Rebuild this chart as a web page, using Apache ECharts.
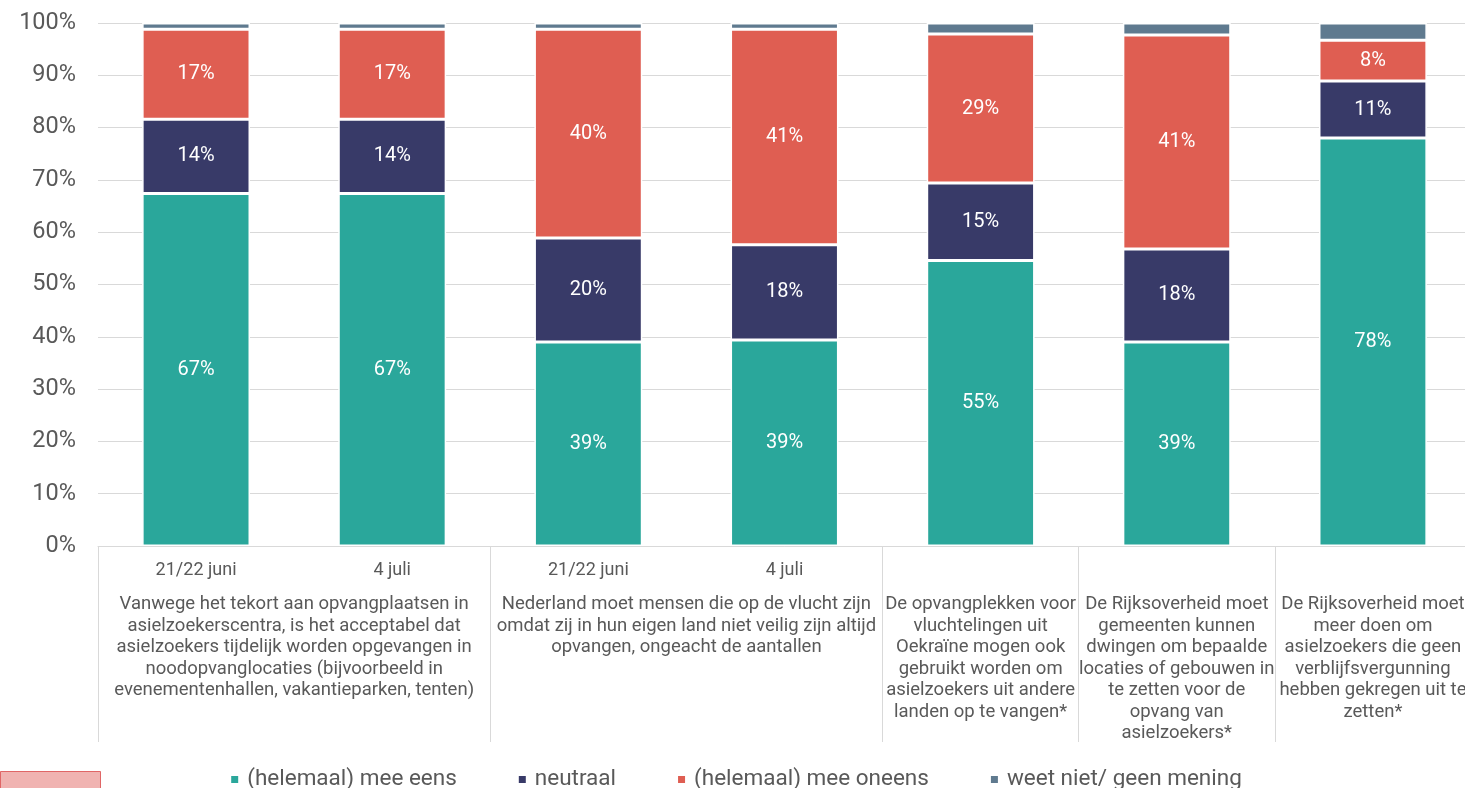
<!DOCTYPE html>
<html>
<head>
<meta charset="utf-8">
<script src="https://cdn.jsdelivr.net/npm/echarts@6/dist/echarts.min.js"></script>
<style>
html,body{margin:0;padding:0;background:#fff;overflow:hidden;width:1465px;height:788px}
#chart{width:1471px;height:788px}
</style>
</head>
<body>
<div id="chart"></div>
<script>
const dateLabels = ['21/22 juni', '4 juli', '21/22 juni', '4 juli', '', '', ''];
const groupLabels = [
  'Vanwege het tekort aan opvangplaatsen in\nasielzoekerscentra, is het acceptabel dat\nasielzoekers tijdelijk worden opgevangen in\nnoodopvanglocaties (bijvoorbeeld in\nevenementenhallen, vakantieparken, tenten)',
  'Nederland moet mensen die op de vlucht zijn\nomdat zij in hun eigen land niet veilig zijn altijd\nopvangen, ongeacht de aantallen',
  'De opvangplekken voor\nvluchtelingen uit\nOekraïne mogen ook\ngebruikt worden om\nasielzoekers uit andere\nlanden op te vangen*',
  'De Rijksoverheid moet\ngemeenten kunnen\ndwingen om bepaalde\nlocaties of gebouwen in\nte zetten voor de\nopvang van\nasielzoekers*',
  'De Rijksoverheid moet\nmeer doen om\nasielzoekers die geen\nverblijfsvergunning\nhebben gekregen uit te\nzetten*'
];
const groupCenters = [1, 3, 4.5, 5.5, 6.5];
const groupBounds = [0, 2, 4, 5, 6, 7];
const seriesNames = ['(helemaal) mee eens', 'neutraal', '(helemaal) mee oneens', 'weet niet/ geen mening'];
const eens     = [67.4, 67.4, 39.0, 39.4, 54.6, 39.0, 78.0];
const neutraal = [14.2, 14.2, 19.9, 18.2, 14.8, 17.8, 10.9];
const oneens   = [17.2, 17.2, 39.9, 41.2, 28.5, 40.9, 7.8];
const weetNiet = [1.2, 1.2, 1.2, 1.2, 2.1, 2.3, 3.3];

const colors = ['#2aa79b', '#383a68', '#df5e52', '#5f7a8f'];
const txt = '#595959';
const font = 'Roboto, "Noto Sans", sans-serif';

const chart = echarts.init(document.getElementById('chart'), null, {renderer: 'canvas'});
function mk(name, data, idx, showLabel) {
  return {
    name: name, type: 'bar', stack: 'total', data: data, xAxisIndex: 0,
    barWidth: '55%',
    itemStyle: {color: colors[idx], borderColor: '#fff', borderWidth: 1.5},
    label: {show: showLabel, position: 'inside', color: '#fff', fontSize: 20, fontFamily: font,
      formatter: p => Math.round(p.value) + '%'},
    emphasis: {disabled: true}
  };
}
chart.setOption({
  animation: false,
  textStyle: {fontFamily: font},
  grid: {left: 98, right: 0, top: 23, bottom: 242, containLabel: false},
  legend: {
    data: seriesNames, top: 763, left: 'center', itemWidth: 9, itemHeight: 9, itemGap: 60,
    icon: 'rect', textStyle: {color: txt, fontSize: 22.5, fontFamily: font, padding: [0,0,0,3]}
  },
  xAxis: [
    {type: 'category', data: dateLabels, position: 'bottom',
      axisLine: {show: true, lineStyle: {color: '#d9d9d9', width: 1}},
      axisTick: {show: false},
      axisLabel: {color: txt, fontSize: 18, fontFamily: font, margin: 15, interval: 0},
      splitLine: {show: false}},
    {type: 'value', min: 0, max: 7, position: 'bottom',
      axisLine: {show: false},
      axisTick: {show: true, inside: false, length: 196, customValues: groupBounds,
        lineStyle: {color: '#d9d9d9', width: 1}},
      axisLabel: {show: true, customValues: groupCenters, color: txt, fontSize: 18.5, fontFamily: font,
        margin: 48, lineHeight: 21.5, align: 'center', verticalAlign: 'top', hideOverlap: false,
        formatter: v => groupLabels[groupCenters.indexOf(v)] || ''},
      splitLine: {show: false}}
  ],
  yAxis: {
    type: 'value', min: 0, max: 100, interval: 10,
    axisLine: {show: false}, axisTick: {show: false},
    axisLabel: {color: txt, fontSize: 23.5, fontFamily: font, margin: 22, formatter: v => v + '%'},
    splitLine: {lineStyle: {color: '#d9d9d9', width: 1}}
  },
  series: [
    mk(seriesNames[0], eens, 0, true),
    mk(seriesNames[1], neutraal, 1, true),
    mk(seriesNames[2], oneens, 2, true),
    mk(seriesNames[3], weetNiet, 3, false)
  ],
  graphic: [{type: 'rect', left: 0, top: 771, shape: {width: 100, height: 30},
    style: {fill: '#f0b3b1', stroke: '#e06666', lineWidth: 1}}]
});
</script>
</body>
</html>
